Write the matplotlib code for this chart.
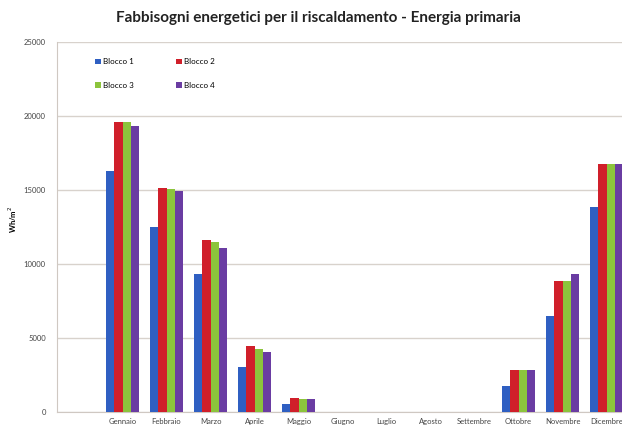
import numpy as np
import matplotlib
matplotlib.use("Agg")
import matplotlib.pyplot as plt

months = ["Gennaio", "Febbraio", "Marzo", "Aprile", "Maggio", "Giugno",
          "Luglio", "Agosto", "Settembre", "Ottobre", "Novembre", "Dicembre"]

blocco_1 = [16300, 12500, 9300, 3020, 520, 0, 0, 0, 0, 1760, 6500, 13850]
blocco_2 = [19600, 15150, 11650, 4450, 970, 0, 0, 0, 0, 2840, 8850, 16780]
blocco_3 = [19600, 15100, 11500, 4230, 860, 0, 0, 0, 0, 2840, 8850, 16760]
blocco_4 = [19300, 14900, 11100, 4030, 860, 0, 0, 0, 0, 2840, 9320, 16760]

series = [("Blocco 1", blocco_1, "#2f5fc2"),
          ("Blocco 2", blocco_2, "#d01f2a"),
          ("Blocco 3", blocco_3, "#8cc43c"),
          ("Blocco 4", blocco_4, "#6a3ca2")]

plt.rcParams["font.family"] = ["Lato", "DejaVu Sans"]

fig = plt.figure(figsize=(6.22, 4.32), dpi=100)
ax = fig.add_axes([0.0916, 0.0463, 0.9084, 0.8565])

x = np.arange(len(months))
width = 0.19
handles = {}
for i, (name, vals, color) in enumerate(series):
    offset = (i - 1.5) * width
    bars = ax.bar(x + offset, vals, width, color=color, linewidth=0, zorder=3, label=name)
    handles[name] = bars

ax.set_xlim(-1.49, 11.35)
ax.set_ylim(0, 25000)
ax.set_yticks(np.arange(0, 25001, 5000))
ax.yaxis.grid(True, color="#d8d2cc", linewidth=1.0, zorder=0)
ax.set_axisbelow(True)

ax.set_xticks(x)
ax.set_xticklabels(months, fontsize=5.5, color="#444444")
ax.tick_params(axis="y", labelsize=5.5, labelcolor="#444444", length=0, pad=8)
ax.tick_params(axis="x", length=0, pad=4)

for side in ["top", "right"]:
    ax.spines[side].set_visible(False)
ax.spines["left"].set_color("#cfc8c2")
ax.spines["bottom"].set_color("#cfc8c2")

ax.set_ylabel("Wh/m$^2$", fontsize=5.5, fontweight="bold")
ax.yaxis.set_label_coords(-0.068, 0.52)

fig.suptitle("Fabbisogni energetici per il riscaldamento - Energia primaria",
             fontsize=11, fontweight="bold", x=0.512, y=0.975, color="#222222")

order = ["Blocco 1", "Blocco 3", "Blocco 2", "Blocco 4"]
ax.legend([handles[n] for n in order], order, ncol=2, loc="upper left",
          bbox_to_anchor=(0.055, 0.975), frameon=False, fontsize=5.8,
          handlelength=0.7, handleheight=0.7, handletextpad=0.3,
          columnspacing=5.2, labelspacing=2.0)

fig.savefig("out.png", dpi=100)
